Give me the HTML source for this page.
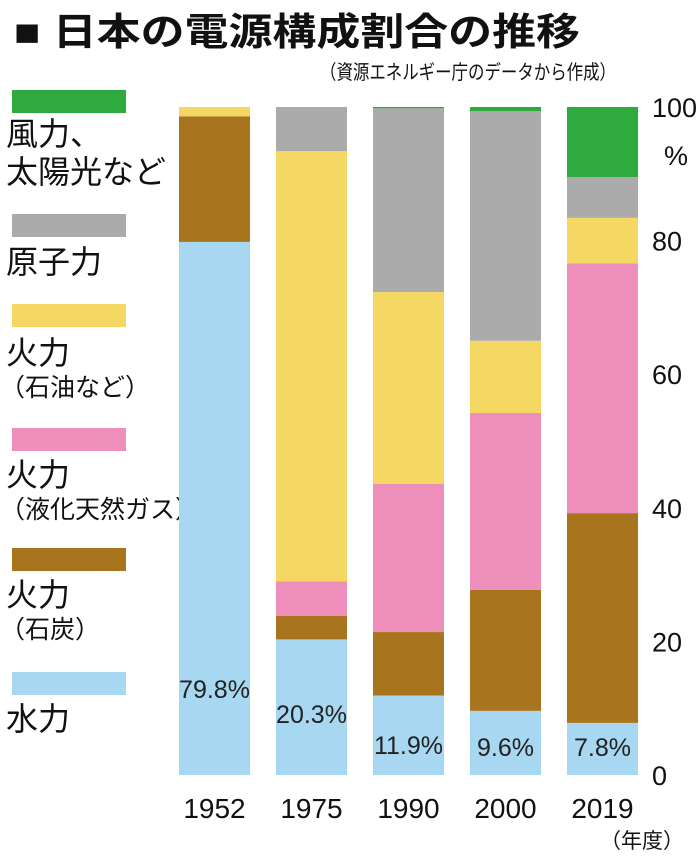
<!DOCTYPE html>
<html><head><meta charset="utf-8"><style>
html,body{margin:0;padding:0;background:#fff;}
svg{display:block;font-family:"Liberation Sans","Noto Sans CJK JP",sans-serif;}
</style></head><body>
<svg id="chart" width="700" height="856" viewBox="0 0 700 856" xmlns="http://www.w3.org/2000/svg">
<text x="14" y="45" font-size="38" font-weight="bold" fill="#111" textLength="566" lengthAdjust="spacingAndGlyphs">■ 日本の電源構成割合の推移</text>
<text x="320" y="79" font-size="20" fill="#111" textLength="296" lengthAdjust="spacingAndGlyphs">（資源エネルギー庁のデータから作成）</text>
<g id="legend" fill="#111"></g>
<g id="bars"></g>
<g id="axis" font-size="27" fill="#111"></g>
<text x="600" y="848" font-size="21" fill="#111">（年度）</text>
</svg>
<script>
const years = ["1952","1975","1990","2000","2019"];
const hydro = [79.8, 20.3, 11.9, 9.6, 7.8];
const coal = [18.8, 3.5, 9.5, 18.1, 31.4];
const lng = [0, 5.2, 22.2, 26.5, 37.4];
const oil = [1.4, 64.4, 28.7, 10.8, 6.8];
const nuclear = [0, 6.6, 27.5, 34.4, 6.1];
const renew = [0, 0, 0.2, 0.6, 10.5];
const hydroLabels = ["79.8%","20.3%","11.9%","9.6%","7.8%"];
const yTicks = [0, 20, 40, 60, 80, 100];

const NS = "http://www.w3.org/2000/svg";
const y0 = 775, pxPer = 6.68;
const yScale = v => y0 - v * pxPer;
const xScale = i => 179 + i * 97;
const bw = 71;
const series = [
  {name:"hydro", vals:hydro, color:"#a7d7f1"},
  {name:"coal", vals:coal, color:"#a8741e"},
  {name:"lng", vals:lng, color:"#ee8fbb"},
  {name:"oil", vals:oil, color:"#f5d763"},
  {name:"nuclear", vals:nuclear, color:"#ababab"},
  {name:"renewables", vals:renew, color:"#2eaa3f"}
];
function mk(tag, attrs, parent){const e=document.createElementNS(NS,tag);for(const k in attrs)e.setAttribute(k,attrs[k]);parent.appendChild(e);return e;}
const bars = document.getElementById("bars");
const labelY = [698, 723, 754, 756, 756];
years.forEach((yr,i)=>{
  let acc = 0;
  series.forEach(s=>{
    const v = s.vals[i];
    if (v>0){
      const r = mk("rect",{x:xScale(i),y:yScale(acc+v),width:bw,height:v*pxPer,fill:s.color},bars);
      
      
    }
    acc += v;
  });
  const t = mk("text",{x:xScale(i)+bw/2,y:labelY[i],"font-size":25,"text-anchor":"middle",fill:"#222"},bars);
  t.textContent = hydroLabels[i];
  
  
  const xl = mk("text",{x:xScale(i)+bw/2,y:818,"font-size":28,"text-anchor":"middle",fill:"#111"},bars);
  xl.textContent = yr;
  
  
});
const axis = document.getElementById("axis");
yTicks.forEach(v=>{
  const t = mk("text",{x:652,y:yScale(v)+10},axis);
  t.textContent = v;
  
  
});
const pct = mk("text",{x:664,y:165},axis);
pct.textContent="%";



const legend = document.getElementById("legend");
const legItems = [
  {c:"#2eaa3f", y:90, lines:[["風力、",145],["太陽光など",183]]},
  {c:"#ababab", y:214, lines:[["原子力",273]]},
  {c:"#f5d763", y:304, lines:[["火力",364],["（石油など）",396]]},
  {c:"#ee8fbb", y:428, lines:[["火力",486],["（液化天然ガス）",518]]},
  {c:"#a8741e", y:548, lines:[["火力",606],["（石炭）",638]]},
  {c:"#a7d7f1", y:672, lines:[["水力",730]]}
];
legItems.forEach((it,k)=>{
  const r = mk("rect",{x:12,y:it.y,width:114,height:23,fill:it.c},legend);
  
  
  it.lines.forEach(([txt,yy],j)=>{
    const small = txt.startsWith("（");
    const t = mk("text",{x:small?0:6,y:yy,"font-size":small?25:32},legend);
    t.textContent = txt;
    
    
  });
});
</script>
</body></html>
